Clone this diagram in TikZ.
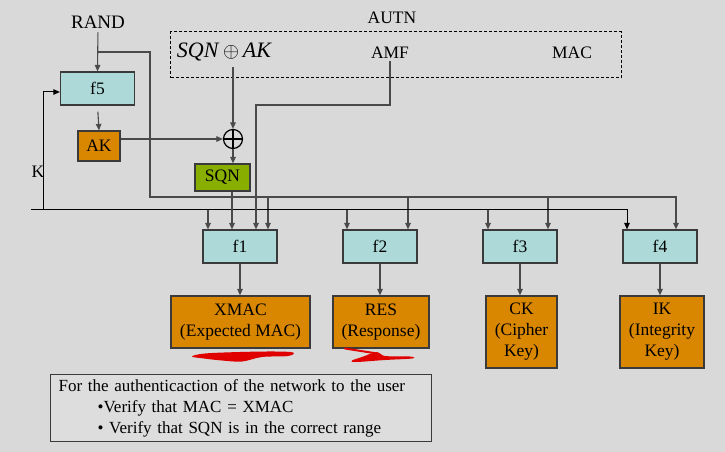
\documentclass[tikz,border=0pt]{standalone}
\usepackage{fontspec}
\setmainfont{Liberation Serif}
\usetikzlibrary{arrows.meta}
\definecolor{bg}{HTML}{D9D9D9}
\definecolor{fcol}{HTML}{ADD9D9}
\definecolor{ocol}{HTML}{D98600}
\definecolor{gcol}{HTML}{88AE00}
\definecolor{boxline}{HTML}{3A3A3A}
\definecolor{linecol}{HTML}{4A4A4A}
\definecolor{notefill}{HTML}{DDDDDD}
\definecolor{scrib}{HTML}{E00000}
\begin{document}
\begin{tikzpicture}[x=1bp,y=-1bp,
  lbl/.style={inner sep=0pt, font=\fontsize{17.5bp}{20bp}\selectfont},
  boxbase/.style={draw=boxline, line width=1.2bp, inner sep=0pt, align=center,
    font=\fontsize{17.5bp}{21bp}\selectfont},
  fbox/.style={boxbase, fill=fcol, minimum width=74bp, minimum height=33bp},
  obox/.style={boxbase, fill=ocol},
  conn/.style={draw=linecol, line width=1.1bp},
  arr/.style={conn, -{Triangle[length=6.5bp,width=5.5bp]}},
  karr/.style={draw=black, line width=1bp, -{Triangle[length=6.5bp,width=5.5bp]}},
]
\fill[bg] (0,0) rectangle (725,452);
\useasboundingbox (0,0) rectangle (725,452);

% top labels and AUTN frame
\node[lbl, font=\fontsize{19bp}{22bp}\selectfont] (rand) at (98,22) {RAND};
\node[lbl] (autn) at (392,18) {AUTN};
\node[draw=black, dash pattern=on 3bp off 2bp, line width=1bp,
      minimum width=450bp, minimum height=46bp, inner sep=0pt] (autnbox) at (396,55) {};
\node[lbl, font=\fontsize{22bp}{25bp}\selectfont] (sqnak) at (224.5,52) {\textit{SQN}\,$\oplus$\,\textit{AK}};
\node[lbl] (amf) at (390,53) {AMF};
\node[lbl] (mac) at (572,53) {MAC};

% left blocks
\node[fbox] (f5) at (97.5,88.5) {f5};
\node[obox, minimum width=42bp, minimum height=30bp] (ak) at (99,146) {AK};
\node[circle, draw=black, line width=1.2bp, minimum size=19bp, inner sep=0pt,
      path picture={\draw[black, line width=1.2bp]
        (path picture bounding box.north) -- (path picture bounding box.south)
        (path picture bounding box.west) -- (path picture bounding box.east);}] (xor) at (233,139) {};
\node[boxbase, fill=gcol, minimum width=55bp, minimum height=27bp] (sqn) at (222.5,177.5) {SQN};
\node[lbl] (klbl) at (38,172) {K};

% function boxes
\node[fbox] (f1) at (240,246.5) {f1};
\node[fbox] (f2) at (380,246.5) {f2};
\node[fbox] (f3) at (520,246.5) {f3};
\node[fbox] (f4) at (660,246.5) {f4};

% outputs
\node[obox, minimum width=139bp, minimum height=52bp] (xmac) at (240.5,322) {XMAC\\(Expected MAC)};
\node[obox, minimum width=96bp, minimum height=52bp] (res) at (381,322) {RES\\(Response)};
\node[obox, minimum width=71bp, minimum height=72bp] (ck) at (521.5,332) {CK\\(Cipher\\Key)};
\node[obox, minimum width=84bp, minimum height=72bp] (ik) at (662,332) {IK\\(Integrity\\Key)};

% note box
\node[draw=boxline, fill=notefill, line width=1.2bp, anchor=north west,
      text width=365bp, inner xsep=8bp, inner ysep=0pt, minimum height=67bp,
      align=left, font=\fontsize{17bp}{21bp}\selectfont] (note) at (50,374)
  {For the authenticaction of the network to the user\\
   \hspace*{39bp}•Verify that MAC = XMAC\\
   \hspace*{39bp}• Verify that SQN is in the correct range};

% junction coordinates
\coordinate (rj) at (97.5,52);
\coordinate (rc) at (150,197);
\coordinate (kl) at (31,210);
\coordinate (kv) at (43,210);
\coordinate (ac) at (390,105);

% RAND paths
\draw[arr, shorten <=4bp] (rand.south) -- (f5.north);
\draw[arr] (rj) -| (rc) -| ([xshift=16bp]f4.north);
\foreach \f in {f1,f2,f3}
  \draw[arr] ([xshift=28bp]\f.north |- rc) -- ([xshift=28bp]\f.north);

% K paths
\draw[karr] (kl) -| ([xshift=-33bp]f4.north);
\draw[karr] (kv) |- ([yshift=-3.5bp]f5.west);
\foreach \f/\d in {f1/-32,f2/-33,f3/-32}
  \draw[arr] ([xshift=\d bp]\f.north |- kv) -- ([xshift=\d bp]\f.north);

% AK / SQN
\draw[arr, shorten <=6bp] (f5.south) -- (ak.north);
\draw[arr, shorten <=6bp] (xor.north |- sqnak.south) -- (xor.north);
\draw[arr] (ak.east |- xor.west) -- (xor.west);
\draw[arr] (xor.south) -- (xor.south |- sqn.north);
\draw[arr] ([xshift=-8bp]f1.north |- sqn.south) -- ([xshift=-8bp]f1.north);

% AMF
\draw[arr, shorten <=2bp] (amf.south) |- ([xshift=16bp]f1.north |- ac) -- ([xshift=16bp]f1.north);

% outputs
\foreach \f/\o in {f1/xmac,f2/res,f3/ck,f4/ik}
  \draw[arr] (\f.south) -- (\f.south |- \o.north);

% red scribbles
\fill[scrib] plot[smooth cycle, tension=0.6] coordinates {
  (192,356.5) (205,353.5) (240,352) (275,351.5) (293,352.5)
  (288,356) (262,357) (242,361.5) (222,360.5) (204,358.5)};
\draw[scrib, line width=2bp, line cap=round] (345,348.5) -- (377,353.5);
\fill[scrib] plot[smooth cycle, tension=0.6] coordinates {
  (377,352) (362,357) (352,360.5) (356,362) (385,360) (412,358.5) (410,356.5) (385,356)};
\end{tikzpicture}
\end{document}
